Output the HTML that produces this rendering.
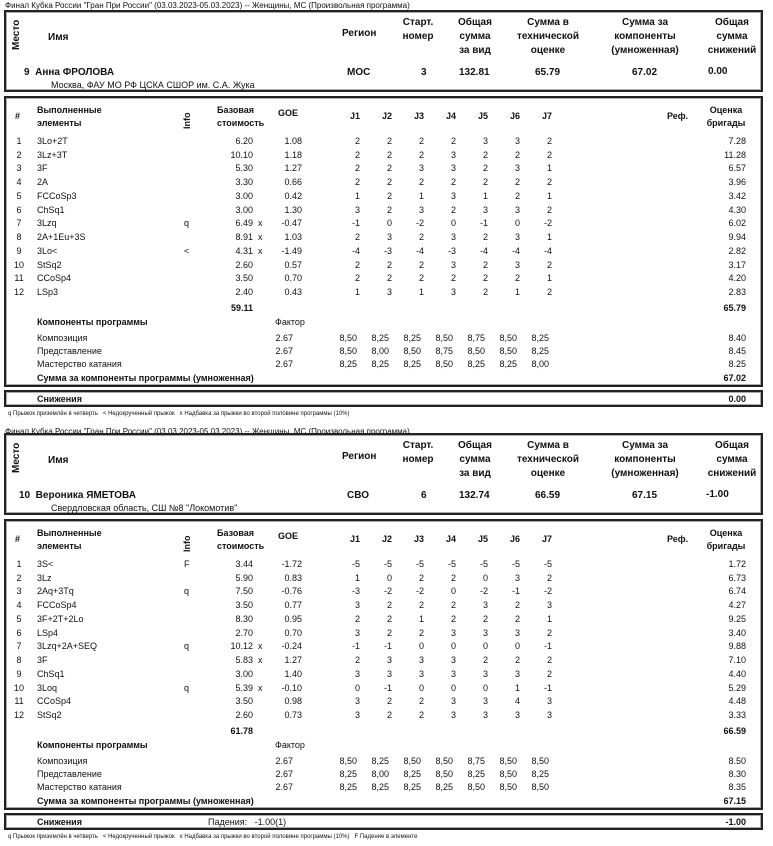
<!DOCTYPE html>
<html><head><meta charset="utf-8"><style>
body{margin:0;width:773px;height:846px;background:#fff;position:relative;overflow:hidden;font-family:"Liberation Sans",Arial,sans-serif;font-size:9px;color:#111}
div,span{position:absolute;white-space:nowrap;line-height:12px}
.box{border:2px solid #222;box-shadow:inset 0 0 0 1px #aaa}
.b{font-weight:bold}
.row{left:0;width:773px;height:12px}
.c0{left:13px;width:12px;text-align:center}
.c1{left:37px}.ci{left:184px}.cb{right:520px}.cx{left:258px}.cg{right:471px}
.j1{right:413px}.j2{right:381px}.j3{right:349px}.j4{right:317px}.j5{right:285px}.j6{right:253px}.j7{right:221px}
.cs{right:27px}
.k1{right:416px}.k2{right:384px}.k3{right:352px}.k4{right:320px}.k5{right:288px}.k6{right:256px}.k7{right:224px}
.cf{right:480px}
.ctr{text-align:center}
.fn{font-size:6px}
.vert{transform:rotate(-90deg);transform-origin:center}
</style></head><body>

<!-- BLOCK 1 -->
<div style="left:5px;top:0;font-size:8px">Финал Кубка России "Гран При России" (03.03.2023-05.03.2023) -- Женщины, МС  (Произвольная программа)</div>
<div class="box" style="left:4px;top:10px;width:755px;height:78px"></div>
<div class="b vert" style="left:2px;top:29px;width:30px;font-size:10px">Место</div>
<div class="b" style="left:48px;top:32px;font-size:10px">Имя</div>
<div class="b" style="left:342px;top:28px;font-size:10px">Регион</div>
<div class="b ctr" style="left:388px;top:16px;width:60px;font-size:10px;line-height:14px">Старт.<br>номер</div>
<div class="b ctr" style="left:445px;top:16px;width:60px;font-size:10px;line-height:14px">Общая<br>сумма<br>за вид</div>
<div class="b ctr" style="left:508px;top:16px;width:80px;font-size:10px;line-height:14px">Сумма в<br>технической<br>оценке</div>
<div class="b ctr" style="left:595px;top:16px;width:100px;font-size:10px;line-height:14px">Сумма за<br>компоненты<br>(умноженная)</div>
<div class="b ctr" style="left:700px;top:16px;width:64px;font-size:10px;line-height:14px">Общая<br>сумма<br>снижений</div>
<div class="b" style="left:24px;top:67px;font-size:10px">9 &nbsp;Анна ФРОЛОВА</div>
<div class="b" style="left:347px;top:67px;font-size:10px">МОС</div>
<div class="b" style="left:421px;top:67px;font-size:10px">3</div>
<div class="b" style="left:459px;top:67px;font-size:10px">132.81</div>
<div class="b" style="left:535px;top:67px;font-size:10px">65.79</div>
<div class="b" style="left:632px;top:67px;font-size:10px">67.02</div>
<div class="b" style="left:708px;top:66px;font-size:10px">0.00</div>
<div style="left:51px;top:80px;line-height:10px">Москва, ФАУ МО РФ ЦСКА СШОР им. С.А. Жука</div>

<div class="box" style="left:4px;top:96px;width:755px;height:287px"></div>
<div class="b" style="left:15px;top:110px">#</div>
<div class="b" style="left:37px;top:104px;line-height:13px">Выполненные<br>элементы</div>
<div class="b vert" style="left:176px;top:112px;width:22px">Info</div>
<div class="b" style="left:217px;top:104px;line-height:13px">Базовая<br>стоимость</div>
<div class="b" style="left:278px;top:107px">GOE</div>
<div class="b" style="left:350px;top:110px">J1</div><div class="b" style="left:382px;top:110px">J2</div><div class="b" style="left:414px;top:110px">J3</div><div class="b" style="left:446px;top:110px">J4</div><div class="b" style="left:478px;top:110px">J5</div><div class="b" style="left:510px;top:110px">J6</div><div class="b" style="left:542px;top:110px">J7</div>
<div class="b" style="left:667px;top:110px">Реф.</div>
<div class="b ctr" style="left:700px;top:104px;width:52px;line-height:13px">Оценка<br>бригады</div>

<div class="row" style="top:135px"><span class="c0">1</span><span class="c1">3Lo+2T</span><span class="cb">6.20</span><span class="cg">1.08</span><span class="j1">2</span><span class="j2">2</span><span class="j3">2</span><span class="j4">2</span><span class="j5">3</span><span class="j6">3</span><span class="j7">2</span><span class="cs">7.28</span></div>
<div class="row" style="top:149px"><span class="c0">2</span><span class="c1">3Lz+3T</span><span class="cb">10.10</span><span class="cg">1.18</span><span class="j1">2</span><span class="j2">2</span><span class="j3">2</span><span class="j4">3</span><span class="j5">2</span><span class="j6">2</span><span class="j7">2</span><span class="cs">11.28</span></div>
<div class="row" style="top:162px"><span class="c0">3</span><span class="c1">3F</span><span class="cb">5.30</span><span class="cg">1.27</span><span class="j1">2</span><span class="j2">2</span><span class="j3">3</span><span class="j4">3</span><span class="j5">2</span><span class="j6">3</span><span class="j7">1</span><span class="cs">6.57</span></div>
<div class="row" style="top:176px"><span class="c0">4</span><span class="c1">2A</span><span class="cb">3.30</span><span class="cg">0.66</span><span class="j1">2</span><span class="j2">2</span><span class="j3">2</span><span class="j4">2</span><span class="j5">2</span><span class="j6">2</span><span class="j7">2</span><span class="cs">3.96</span></div>
<div class="row" style="top:190px"><span class="c0">5</span><span class="c1">FCCoSp3</span><span class="cb">3.00</span><span class="cg">0.42</span><span class="j1">1</span><span class="j2">2</span><span class="j3">1</span><span class="j4">3</span><span class="j5">1</span><span class="j6">2</span><span class="j7">1</span><span class="cs">3.42</span></div>
<div class="row" style="top:204px"><span class="c0">6</span><span class="c1">ChSq1</span><span class="cb">3.00</span><span class="cg">1.30</span><span class="j1">3</span><span class="j2">2</span><span class="j3">3</span><span class="j4">2</span><span class="j5">3</span><span class="j6">3</span><span class="j7">2</span><span class="cs">4.30</span></div>
<div class="row" style="top:217px"><span class="c0">7</span><span class="c1">3Lzq</span><span class="ci">q</span><span class="cb">6.49</span><span class="cx">x</span><span class="cg">-0.47</span><span class="j1">-1</span><span class="j2">0</span><span class="j3">-2</span><span class="j4">0</span><span class="j5">-1</span><span class="j6">0</span><span class="j7">-2</span><span class="cs">6.02</span></div>
<div class="row" style="top:231px"><span class="c0">8</span><span class="c1">2A+1Eu+3S</span><span class="cb">8.91</span><span class="cx">x</span><span class="cg">1.03</span><span class="j1">2</span><span class="j2">3</span><span class="j3">2</span><span class="j4">3</span><span class="j5">2</span><span class="j6">3</span><span class="j7">1</span><span class="cs">9.94</span></div>
<div class="row" style="top:245px"><span class="c0">9</span><span class="c1">3Lo&lt;</span><span class="ci">&lt;</span><span class="cb">4.31</span><span class="cx">x</span><span class="cg">-1.49</span><span class="j1">-4</span><span class="j2">-3</span><span class="j3">-4</span><span class="j4">-3</span><span class="j5">-4</span><span class="j6">-4</span><span class="j7">-4</span><span class="cs">2.82</span></div>
<div class="row" style="top:259px"><span class="c0">10</span><span class="c1">StSq2</span><span class="cb">2.60</span><span class="cg">0.57</span><span class="j1">2</span><span class="j2">2</span><span class="j3">2</span><span class="j4">3</span><span class="j5">2</span><span class="j6">3</span><span class="j7">2</span><span class="cs">3.17</span></div>
<div class="row" style="top:272px"><span class="c0">11</span><span class="c1">CCoSp4</span><span class="cb">3.50</span><span class="cg">0.70</span><span class="j1">2</span><span class="j2">2</span><span class="j3">2</span><span class="j4">2</span><span class="j5">2</span><span class="j6">2</span><span class="j7">1</span><span class="cs">4.20</span></div>
<div class="row" style="top:286px"><span class="c0">12</span><span class="c1">LSp3</span><span class="cb">2.40</span><span class="cg">0.43</span><span class="j1">1</span><span class="j2">3</span><span class="j3">1</span><span class="j4">3</span><span class="j5">2</span><span class="j6">1</span><span class="j7">2</span><span class="cs">2.83</span></div>
<div class="row b" style="top:302px"><span class="cb">59.11</span><span class="cs">65.79</span></div>
<div class="b" style="left:37px;top:316px">Компоненты программы</div>
<div style="left:275px;top:316px">Фактор</div>
<div class="row" style="top:332px"><span class="c1">Композиция</span><span class="cf">2.67</span><span class="k1">8,50</span><span class="k2">8,25</span><span class="k3">8,25</span><span class="k4">8,50</span><span class="k5">8,75</span><span class="k6">8,50</span><span class="k7">8,25</span><span class="cs">8.40</span></div>
<div class="row" style="top:345px"><span class="c1">Представление</span><span class="cf">2.67</span><span class="k1">8,50</span><span class="k2">8,00</span><span class="k3">8,50</span><span class="k4">8,75</span><span class="k5">8,50</span><span class="k6">8,50</span><span class="k7">8,25</span><span class="cs">8.45</span></div>
<div class="row" style="top:358px"><span class="c1">Мастерство катания</span><span class="cf">2.67</span><span class="k1">8,25</span><span class="k2">8,25</span><span class="k3">8,25</span><span class="k4">8,50</span><span class="k5">8,25</span><span class="k6">8,25</span><span class="k7">8,00</span><span class="cs">8.25</span></div>
<div class="row b" style="top:372px"><span class="c1">Сумма за компоненты программы (умноженная)</span><span class="cs">67.02</span></div>
<div class="box" style="left:4px;top:390px;width:755px;height:13px"></div>
<div class="row b" style="top:393px"><span class="c1">Снижения</span><span class="cs">0.00</span></div>
<div class="fn" style="left:8px;top:408px">q Прыжок приземлён в четверть &nbsp;&nbsp;&lt; Недокрученный прыжок &nbsp;&nbsp;x Надбавка за прыжки во второй половине программы (10%)</div>

<!-- BLOCK 2 -->
<div style="left:5px;top:426px;font-size:8px">Финал Кубка России "Гран При России" (03.03.2023-05.03.2023) -- Женщины, МС  (Произвольная программа)</div>
<div class="box" style="left:4px;top:433px;width:755px;height:78px"></div>
<div class="b vert" style="left:2px;top:452px;width:30px;font-size:10px">Место</div>
<div class="b" style="left:48px;top:455px;font-size:10px">Имя</div>
<div class="b" style="left:342px;top:451px;font-size:10px">Регион</div>
<div class="b ctr" style="left:388px;top:439px;width:60px;font-size:10px;line-height:14px">Старт.<br>номер</div>
<div class="b ctr" style="left:445px;top:439px;width:60px;font-size:10px;line-height:14px">Общая<br>сумма<br>за вид</div>
<div class="b ctr" style="left:508px;top:439px;width:80px;font-size:10px;line-height:14px">Сумма в<br>технической<br>оценке</div>
<div class="b ctr" style="left:595px;top:439px;width:100px;font-size:10px;line-height:14px">Сумма за<br>компоненты<br>(умноженная)</div>
<div class="b ctr" style="left:700px;top:439px;width:64px;font-size:10px;line-height:14px">Общая<br>сумма<br>снижений</div>
<div class="b" style="left:19px;top:490px;font-size:10px">10 &nbsp;Вероника ЯМЕТОВА</div>
<div class="b" style="left:347px;top:490px;font-size:10px">СВО</div>
<div class="b" style="left:421px;top:490px;font-size:10px">6</div>
<div class="b" style="left:459px;top:490px;font-size:10px">132.74</div>
<div class="b" style="left:535px;top:490px;font-size:10px">66.59</div>
<div class="b" style="left:632px;top:490px;font-size:10px">67.15</div>
<div class="b" style="left:706px;top:489px;font-size:10px">-1.00</div>
<div style="left:51px;top:503px;line-height:10px">Свердловская область, СШ №8 "Локомотив"</div>

<div class="box" style="left:4px;top:519px;width:755px;height:287px"></div>
<div class="b" style="left:15px;top:533px">#</div>
<div class="b" style="left:37px;top:527px;line-height:13px">Выполненные<br>элементы</div>
<div class="b vert" style="left:176px;top:535px;width:22px">Info</div>
<div class="b" style="left:217px;top:527px;line-height:13px">Базовая<br>стоимость</div>
<div class="b" style="left:278px;top:530px">GOE</div>
<div class="b" style="left:350px;top:533px">J1</div><div class="b" style="left:382px;top:533px">J2</div><div class="b" style="left:414px;top:533px">J3</div><div class="b" style="left:446px;top:533px">J4</div><div class="b" style="left:478px;top:533px">J5</div><div class="b" style="left:510px;top:533px">J6</div><div class="b" style="left:542px;top:533px">J7</div>
<div class="b" style="left:667px;top:533px">Реф.</div>
<div class="b ctr" style="left:700px;top:527px;width:52px;line-height:13px">Оценка<br>бригады</div>

<div class="row" style="top:558px"><span class="c0">1</span><span class="c1">3S&lt;</span><span class="ci">F</span><span class="cb">3.44</span><span class="cg">-1.72</span><span class="j1">-5</span><span class="j2">-5</span><span class="j3">-5</span><span class="j4">-5</span><span class="j5">-5</span><span class="j6">-5</span><span class="j7">-5</span><span class="cs">1.72</span></div>
<div class="row" style="top:572px"><span class="c0">2</span><span class="c1">3Lz</span><span class="cb">5.90</span><span class="cg">0.83</span><span class="j1">1</span><span class="j2">0</span><span class="j3">2</span><span class="j4">2</span><span class="j5">0</span><span class="j6">3</span><span class="j7">2</span><span class="cs">6.73</span></div>
<div class="row" style="top:585px"><span class="c0">3</span><span class="c1">2Aq+3Tq</span><span class="ci">q</span><span class="cb">7.50</span><span class="cg">-0.76</span><span class="j1">-3</span><span class="j2">-2</span><span class="j3">-2</span><span class="j4">0</span><span class="j5">-2</span><span class="j6">-1</span><span class="j7">-2</span><span class="cs">6.74</span></div>
<div class="row" style="top:599px"><span class="c0">4</span><span class="c1">FCCoSp4</span><span class="cb">3.50</span><span class="cg">0.77</span><span class="j1">3</span><span class="j2">2</span><span class="j3">2</span><span class="j4">2</span><span class="j5">3</span><span class="j6">2</span><span class="j7">3</span><span class="cs">4.27</span></div>
<div class="row" style="top:613px"><span class="c0">5</span><span class="c1">3F+2T+2Lo</span><span class="cb">8.30</span><span class="cg">0.95</span><span class="j1">2</span><span class="j2">2</span><span class="j3">1</span><span class="j4">2</span><span class="j5">2</span><span class="j6">2</span><span class="j7">1</span><span class="cs">9.25</span></div>
<div class="row" style="top:627px"><span class="c0">6</span><span class="c1">LSp4</span><span class="cb">2.70</span><span class="cg">0.70</span><span class="j1">3</span><span class="j2">2</span><span class="j3">2</span><span class="j4">3</span><span class="j5">3</span><span class="j6">3</span><span class="j7">2</span><span class="cs">3.40</span></div>
<div class="row" style="top:640px"><span class="c0">7</span><span class="c1">3Lzq+2A+SEQ</span><span class="ci">q</span><span class="cb">10.12</span><span class="cx">x</span><span class="cg">-0.24</span><span class="j1">-1</span><span class="j2">-1</span><span class="j3">0</span><span class="j4">0</span><span class="j5">0</span><span class="j6">0</span><span class="j7">-1</span><span class="cs">9.88</span></div>
<div class="row" style="top:654px"><span class="c0">8</span><span class="c1">3F</span><span class="cb">5.83</span><span class="cx">x</span><span class="cg">1.27</span><span class="j1">2</span><span class="j2">3</span><span class="j3">3</span><span class="j4">3</span><span class="j5">2</span><span class="j6">2</span><span class="j7">2</span><span class="cs">7.10</span></div>
<div class="row" style="top:668px"><span class="c0">9</span><span class="c1">ChSq1</span><span class="cb">3.00</span><span class="cg">1.40</span><span class="j1">3</span><span class="j2">3</span><span class="j3">3</span><span class="j4">3</span><span class="j5">3</span><span class="j6">3</span><span class="j7">2</span><span class="cs">4.40</span></div>
<div class="row" style="top:682px"><span class="c0">10</span><span class="c1">3Loq</span><span class="ci">q</span><span class="cb">5.39</span><span class="cx">x</span><span class="cg">-0.10</span><span class="j1">0</span><span class="j2">-1</span><span class="j3">0</span><span class="j4">0</span><span class="j5">0</span><span class="j6">1</span><span class="j7">-1</span><span class="cs">5.29</span></div>
<div class="row" style="top:695px"><span class="c0">11</span><span class="c1">CCoSp4</span><span class="cb">3.50</span><span class="cg">0.98</span><span class="j1">3</span><span class="j2">2</span><span class="j3">2</span><span class="j4">3</span><span class="j5">3</span><span class="j6">4</span><span class="j7">3</span><span class="cs">4.48</span></div>
<div class="row" style="top:709px"><span class="c0">12</span><span class="c1">StSq2</span><span class="cb">2.60</span><span class="cg">0.73</span><span class="j1">3</span><span class="j2">2</span><span class="j3">2</span><span class="j4">3</span><span class="j5">3</span><span class="j6">3</span><span class="j7">3</span><span class="cs">3.33</span></div>
<div class="row b" style="top:725px"><span class="cb">61.78</span><span class="cs">66.59</span></div>
<div class="b" style="left:37px;top:739px">Компоненты программы</div>
<div style="left:275px;top:739px">Фактор</div>
<div class="row" style="top:755px"><span class="c1">Композиция</span><span class="cf">2.67</span><span class="k1">8,50</span><span class="k2">8,25</span><span class="k3">8,50</span><span class="k4">8,50</span><span class="k5">8,75</span><span class="k6">8,50</span><span class="k7">8,50</span><span class="cs">8.50</span></div>
<div class="row" style="top:768px"><span class="c1">Представление</span><span class="cf">2.67</span><span class="k1">8,25</span><span class="k2">8,00</span><span class="k3">8,25</span><span class="k4">8,50</span><span class="k5">8,25</span><span class="k6">8,50</span><span class="k7">8,25</span><span class="cs">8.30</span></div>
<div class="row" style="top:781px"><span class="c1">Мастерство катания</span><span class="cf">2.67</span><span class="k1">8,25</span><span class="k2">8,25</span><span class="k3">8,25</span><span class="k4">8,25</span><span class="k5">8,50</span><span class="k6">8,50</span><span class="k7">8,50</span><span class="cs">8.35</span></div>
<div class="row b" style="top:795px"><span class="c1">Сумма за компоненты программы (умноженная)</span><span class="cs">67.15</span></div>
<div class="box" style="left:4px;top:813px;width:755px;height:13px"></div>
<div class="row" style="top:816px"><span class="c1 b">Снижения</span><span style="left:208px">Падения: &nbsp;&nbsp;-1.00(1)</span><span class="cs b">-1.00</span></div>
<div class="fn" style="left:8px;top:831px">q Прыжок приземлён в четверть &nbsp;&nbsp;&lt; Недокрученный прыжок &nbsp;&nbsp;x Надбавка за прыжки во второй половине программы (10%) &nbsp;&nbsp;F Падение в элементе</div>
</body></html>
